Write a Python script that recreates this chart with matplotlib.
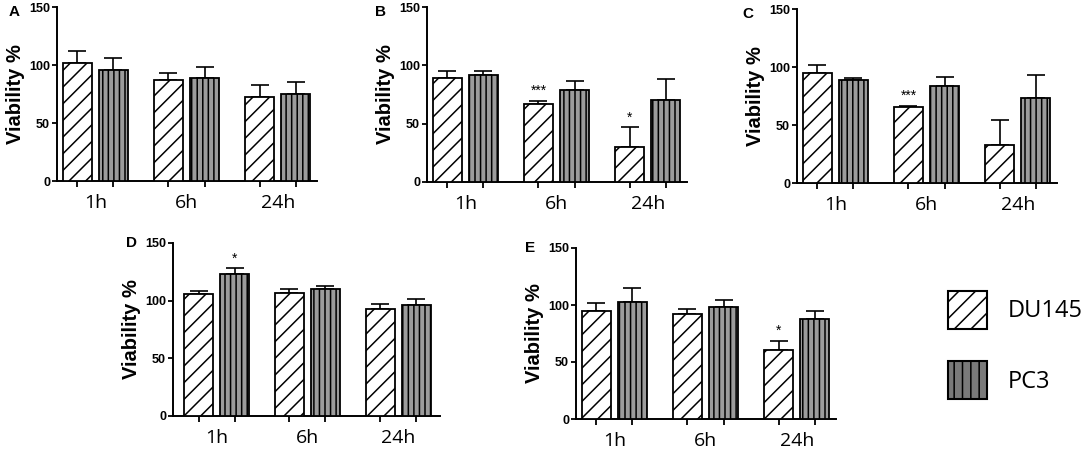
import matplotlib
matplotlib.use("Agg")
import matplotlib.pyplot as plt
import numpy as np
from matplotlib.patches import Patch

# ---- data ----
times = ["1h", "6h", "24h"]

du145_a = [102, 87, 72]
du145_a_err = [10, 6, 11]
pc3_a = [96, 89, 75]
pc3_a_err = [10, 9.5, 10]

du145_b = [89, 66.5, 30]
du145_b_err = [6.5, 3, 17]
pc3_b = [91.5, 79, 70.5]
pc3_b_err = [4, 8, 18]

du145_c = [95, 65.5, 32.5]
du145_c_err = [6.5, 1, 22]
pc3_c = [89, 84, 73.5]
pc3_c_err = [1.2, 7, 20]

du145_d = [106, 107, 93]
du145_d_err = [2.5, 3, 4.5]
pc3_d = [123.5, 110, 96]
pc3_d_err = [4.5, 3, 5.5]

du145_e = [95, 92, 60.5]
du145_e_err = [7, 4.5, 8]
pc3_e = [103, 98, 88]
pc3_e_err = [11.5, 6, 7]

# significance marks: (series, time index, text)
stars_a = []
stars_b = [("DU145", 1, "***"), ("DU145", 2, "*")]
stars_c = [("DU145", 1, "***")]
stars_d = [("PC3", 0, "*")]
stars_e = [("DU145", 2, "*")]

yticks = [0, 50, 100, 150]

# ---- style ----
bold_font = "Liberation Sans"
tick_font = "Open Sans"
gray = "#9c9c9c"
gray_leg = "#7a7a7a"
plt.rcParams["hatch.linewidth"] = 1.1

fig = plt.figure(figsize=(10.84, 4.50), dpi=100)

W, H = 1084.0, 450.0
def px_axes(left, top, right, bottom):
    return fig.add_axes([left / W, 1 - bottom / H, (right - left) / W, (bottom - top) / H])

panels = [
    ("A", px_axes(57, 7, 317, 181), du145_a, du145_a_err, pc3_a, pc3_a_err, stars_a, (-0.42, 2.43), (-0.165, 0.97)),
    ("B", px_axes(427, 7, 687, 182), du145_b, du145_b_err, pc3_b, pc3_b_err, stars_b, (-0.42, 2.43), (-0.18, 0.97)),
    ("C", px_axes(797, 9, 1057, 183), du145_c, du145_c_err, pc3_c, pc3_c_err, stars_c, (-0.42, 2.43), (-0.19, 0.97)),
    ("D", px_axes(173, 243, 440, 416), du145_d, du145_d_err, pc3_d, pc3_d_err, stars_d, (-0.48, 2.46), (-0.157, 1.0)),
    ("E", px_axes(576, 248, 836, 419), du145_e, du145_e_err, pc3_e, pc3_e_err, stars_e, (-0.42, 2.43), (-0.177, 1.0)),
]

x = np.arange(len(times))
bw = 0.32
off = 0.198

for letter, ax, du, du_err, pc, pc_err, stars, xlim, lpos in panels:
    ax.bar(x - off, du, bw, color="white", edgecolor="black", hatch="//", linewidth=1.3, zorder=3)
    ax.bar(x + off, pc, bw, color=gray, edgecolor="black", hatch="|||", linewidth=1.3, zorder=3)
    ax.errorbar(x - off, du, yerr=[np.zeros(len(du)), du_err], fmt="none", ecolor="black",
                elinewidth=1.2, capsize=6.5, capthick=1.2, zorder=2)
    ax.errorbar(x + off, pc, yerr=[np.zeros(len(pc)), pc_err], fmt="none", ecolor="black",
                elinewidth=1.2, capsize=6.5, capthick=1.2, zorder=2)

    for series, i, txt in stars:
        if series == "DU145":
            xs, top = x[i] - off, du[i] + du_err[i]
        else:
            xs, top = x[i] + off, pc[i] + pc_err[i]
        ax.annotate(txt, (xs, top), xytext=(0, 2), textcoords="offset points",
                    ha="center", va="bottom", fontsize=10, family=bold_font)

    ax.set_xlim(*xlim)
    ax.set_ylim(0, 150)
    for s in ["top", "right"]:
        ax.spines[s].set_visible(False)
    for s in ["left", "bottom"]:
        ax.spines[s].set_linewidth(1.4)

    ax.set_yticks(yticks)
    ax.set_yticklabels([str(v) for v in yticks], fontsize=9, fontweight="bold", family=bold_font)
    ax.tick_params(axis="y", length=3.5, width=1.3, pad=1.5)

    ax.set_xticks(x)
    ax.set_xticklabels(times, fontsize=14, family=tick_font)
    ax.tick_params(axis="x", which="major", length=0, pad=9.5)
    ax.set_xticks(np.concatenate([x - off, x + off]), minor=True)
    ax.tick_params(axis="x", which="minor", length=4, width=1.3)

    ax.set_ylabel("Viability %", fontsize=14.5, fontweight="bold", family=bold_font, labelpad=3)
    ax.text(lpos[0], lpos[1], letter, transform=ax.transAxes, fontsize=11, fontweight="bold",
            family=bold_font, ha="center", va="center")

handles = [
    Patch(facecolor="white", edgecolor="black", hatch="//", linewidth=1.5),
    Patch(facecolor=gray_leg, edgecolor="black", hatch="||", linewidth=1.5),
]
fig.legend(handles, ["DU145", "PC3"], loc="upper left",
           bbox_to_anchor=(948 / W, 1 - 291 / H), frameon=False,
           prop={"family": tick_font, "size": 17},
           handlelength=1.65, handleheight=2.08, handletextpad=0.9,
           labelspacing=1.38, borderpad=0, borderaxespad=0)

fig.savefig("out.png", dpi=100)
